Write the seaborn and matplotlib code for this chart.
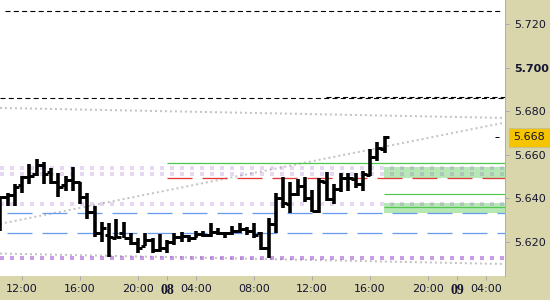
import numpy as np
import pandas as pd
import matplotlib
matplotlib.use("Agg")
import matplotlib.pyplot as plt
import seaborn as sns

# ---------------- data ----------------
opens = [5.6370, 5.6406, 5.6416, 5.6461, 5.6498, 5.6512, 5.6553, 5.6521, 5.6475, 5.6461,
         5.6484, 5.6475, 5.6406, 5.6338, 5.6241, 5.6232, 5.6218, 5.6241, 5.6218, 5.6195,
         5.6182, 5.6209, 5.6163, 5.6172, 5.6200, 5.6223, 5.6228, 5.6218, 5.6237, 5.6232,
         5.6246, 5.6241, 5.6241, 5.6250, 5.6260, 5.6250, 5.6241, 5.6172, 5.6283, 5.6402,
         5.6374, 5.6420, 5.6457, 5.6402, 5.6342, 5.6475, 5.6397, 5.6443, 5.6494, 5.6489,
         5.6466, 5.6507, 5.6590, 5.6627]
highs = [5.6411, 5.6425, 5.6466, 5.6503, 5.6558, 5.6581, 5.6567, 5.6539, 5.6516, 5.6503,
         5.6544, 5.6475, 5.6425, 5.6365, 5.6292, 5.6287, 5.6305, 5.6292, 5.6241, 5.6218,
         5.6241, 5.6218, 5.6237, 5.6209, 5.6241, 5.6246, 5.6232, 5.6250, 5.6250, 5.6287,
         5.6264, 5.6246, 5.6273, 5.6287, 5.6269, 5.6287, 5.6246, 5.6310, 5.6425, 5.6498,
         5.6475, 5.6489, 5.6498, 5.6439, 5.6494, 5.6521, 5.6466, 5.6516, 5.6516, 5.6516,
         5.6526, 5.6627, 5.6659, 5.6686]
lows = [5.6250, 5.6365, 5.6365, 5.6425, 5.6466, 5.6503, 5.6466, 5.6466, 5.6406, 5.6434,
        5.6434, 5.6374, 5.6305, 5.6223, 5.6200, 5.6131, 5.6218, 5.6218, 5.6186, 5.6150,
        5.6182, 5.6150, 5.6154, 5.6150, 5.6186, 5.6200, 5.6200, 5.6218, 5.6223, 5.6223,
        5.6232, 5.6218, 5.6232, 5.6241, 5.6232, 5.6218, 5.6163, 5.6127, 5.6241, 5.6356,
        5.6333, 5.6411, 5.6383, 5.6338, 5.6333, 5.6388, 5.6374, 5.6429, 5.6434, 5.6448,
        5.6434, 5.6503, 5.6571, 5.6608]
closes = [5.6406, 5.6416, 5.6452, 5.6498, 5.6503, 5.6553, 5.6512, 5.6475, 5.6452, 5.6484,
          5.6475, 5.6406, 5.6338, 5.6241, 5.6264, 5.6223, 5.6223, 5.6218, 5.6195, 5.6172,
          5.6209, 5.6163, 5.6172, 5.6200, 5.6223, 5.6228, 5.6218, 5.6237, 5.6232, 5.6246,
          5.6241, 5.6241, 5.6250, 5.6260, 5.6250, 5.6232, 5.6172, 5.6283, 5.6402, 5.6379,
          5.6420, 5.6457, 5.6402, 5.6342, 5.6480, 5.6397, 5.6443, 5.6494, 5.6494, 5.6466,
          5.6512, 5.6590, 5.6631, 5.6682]

x_tick_pos = [3, 11, 19, 23, 27, 35, 43, 51, 59, 63, 67]
x_tick_labels = ["12:00", "16:00", "20:00", "08", "04:00", "08:00",
                 "12:00", "16:00", "20:00", "09", "04:00"]
bold_x_labels = ["08", "09"]

y_ticks = [5.720, 5.700, 5.680, 5.660, 5.640, 5.620]
y_tick_labels = ["5.720", "5.700", "5.680", "5.660", "5.640", "5.620"]
bold_y_labels = ["5.700"]
last_price = 5.668

level_top = 5.7260
level_res_a = 5.6861
level_res_b = 5.6867
level_green = 5.6562
level_red = 5.6494
levels_blue = [5.6333, 5.6241]
levels_lavender = [5.6539, 5.6512, 5.6374]
level_purple = 5.6127
target_zones = [(5.6494, 5.6544), (5.6333, 5.6381)]
target_lines = [5.6420, 5.6361]
trend_down = [5.6815, 5.6769]
trend_up = [5.6283, 5.6748]
trend_low = [5.6147, 5.6099]

# ---------------- style ----------------
TAN = "#d9d6ac"
sns.set_style("white")
plt.rcParams["font.family"] = ["DejaVu Sans"]
plt.rcParams["lines.scale_dashes"] = False
PX = 0.72  # points per pixel at 100 dpi

fig = plt.figure(figsize=(5.5, 3.0), dpi=100, facecolor=TAN)
ax = fig.add_axes([0, 24 / 300, 505 / 550, 276 / 300])
ax.set_facecolor("white")

xmin, xmax = -0.0345, 69.62
ax.set_xlim(xmin, xmax)
ax.set_ylim(5.6044, 5.7310)

def px2idx(p):
    return (p - 0.25) / 7.25

# trend lines (dotted grey)
trend_df = pd.DataFrame({
    "x": [xmin, xmax] * 3,
    "y": trend_down + trend_up + trend_low,
    "line": ["down", "down", "up", "up", "low", "low"],
})
for name, sub in trend_df.groupby("line"):
    sns.lineplot(data=sub, x="x", y="y", ax=ax, color="#c4c4c4",
                 lw=2 * PX, linestyle=(0, (2 * PX, 3 * PX)), zorder=2)

# target zones
z0 = px2idx(383.5)
for lo, hi in target_zones:
    ax.fill_between([z0, xmax], lo, hi, color="#b6e8b6", lw=0, zorder=1)
for lv in target_lines:
    ax.hlines(lv, z0, xmax, color="#52c852", lw=1.2 * PX, zorder=3)

# lavender square-dotted levels
for lv in levels_lavender:
    ax.hlines(lv, xmin, xmax, color=(0.6, 0.3, 0.8, 0.22), lw=4 * PX,
              linestyles=[(0, (4 * PX, 6 * PX))], zorder=2)
ax.hlines(level_purple, xmin, xmax, color=(0.62, 0.3, 0.82, 0.55), lw=4 * PX,
          linestyles=[(0, (4 * PX, 6 * PX))], zorder=2)

# black dashed resistance
ax.hlines(level_top, px2idx(5), px2idx(500), color="black", lw=1.1 * PX,
          linestyles=[(0, (5 * PX, 3.3 * PX))], zorder=3)
ax.hlines(level_res_a, xmin, xmax, color="black", lw=1.1 * PX,
          linestyles=[(0, (5 * PX, 3.3 * PX))], zorder=3)
ax.hlines(level_res_b, px2idx(326), xmax, color="black", lw=1.1 * PX,
          linestyles=[(0, (5 * PX, 3.3 * PX))], zorder=3)

# blue dashed levels
for lv in levels_blue:
    ax.hlines(lv, px2idx(7), xmax, color="#6b9bef", lw=1.3 * PX,
              linestyles=[(0, (25 * PX, 10 * PX))], zorder=3)

# red dashed + green solid level
ax.hlines(level_red, px2idx(167), xmax, color="#e23a3a", lw=1.3 * PX,
          linestyles=[(0, (25 * PX, 10 * PX))], zorder=3)
ax.hlines(level_green, px2idx(167), xmax, color="#52c852", lw=1.3 * PX, zorder=3)

# small current price marker at the right edge
ax.hlines(last_price, px2idx(495), px2idx(499), color="black", lw=1 * PX, zorder=4)

# OHLC bars
idx = np.arange(len(opens))
ax.vlines(idx, lows, highs, color="black", lw=3.6 * PX, zorder=5,
          capstyle="butt")
ax.hlines(opens, idx - 0.62, idx, color="black", lw=3 * PX, zorder=5)
ax.hlines(closes, idx, idx + 0.62, color="black", lw=3 * PX, zorder=5)

# axes decorations
for s in ["top", "left", "bottom"]:
    ax.spines[s].set_visible(False)
ax.spines["right"].set_color("#b0b0a0")
ax.spines["right"].set_linewidth(1 * PX)

ax.yaxis.tick_right()
ax.set_yticks(y_ticks)
ax.set_yticklabels(y_tick_labels)
ax.set_xticks(x_tick_pos)
ax.set_xticklabels(x_tick_labels)
ax.tick_params(axis="y", which="both", right=True, length=4 * PX, width=1 * PX,
               color="#a8a8b0", pad=4, labelsize=8, labelcolor="#141430")
ax.tick_params(axis="x", which="both", bottom=True, length=4 * PX, width=1 * PX,
               color="#a8a8b0", pad=3, labelsize=8, labelcolor="#141430")
for lab in ax.get_yticklabels():
    if lab.get_text() in bold_y_labels:
        lab.set_fontweight("bold")
for lab in ax.get_xticklabels():
    if lab.get_text() in bold_x_labels:
        lab.set_fontweight("bold")
        lab.set_fontfamily("Liberation Serif")
        lab.set_fontsize(10)
ax.set_xlabel("")
ax.set_ylabel("")
ax.grid(False)

# current price box
ax.annotate(f"{last_price:.3f}", xy=(1, last_price),
            xycoords=("axes fraction", "data"),
            xytext=(8.5 * PX, 0), textcoords="offset points",
            ha="left", va="center", fontsize=8, color="#141430",
            bbox=dict(boxstyle="square,pad=0.42", fc="#f7c400", ec="#c9c28a", lw=0.8),
            annotation_clip=False, zorder=10)

fig.savefig("out.png", dpi=100, facecolor=TAN)
